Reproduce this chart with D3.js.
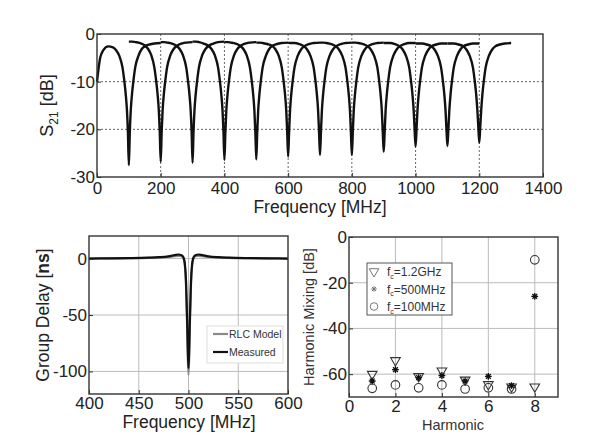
<!DOCTYPE html>
<html>
<head>
<meta charset="utf-8">
<script src="https://cdn.jsdelivr.net/npm/d3@7"></script>
<style>
    body { margin: 0; background: #fff; }
    svg { display: block; font-family: 'Liberation Sans', Arial, sans-serif; }
</style>
</head>
<body>
<svg id="chart" width="604" height="441"></svg>
<script>
// ---- top panel: S21 notches, one curve per notch centre ----
var s21Centers = [100, 200, 300, 400, 500, 600, 700, 800, 900, 1000, 1100, 1200];
var s21Offsets = [-100, -90, -80, -65, -50, -40, -30, -20, -14, -10, -6, -3, 0, 3, 6, 10, 14, 20, 30, 40, 50, 65, 80, 100];
var s21Values = [
    [-10, -5, -3.4, -2.6, -2.8, -3.4, -4.6, -7, -10, -12.5, -16, -20.5, -27.5, -20.5, -16, -12.5, -10, -7, -4.6, -3.2, -2.6, -2.2, -2.0, -1.9],
    [-1.6, -1.6, -1.7, -1.9, -2.4, -3.1, -4.4, -7, -10, -12.5, -16, -20.5, -26.8, -20.5, -16, -12.5, -10, -7, -4.5, -3.2, -2.5, -2.0, -1.8, -1.7],
    [-1.7, -1.7, -1.8, -2.0, -2.5, -3.2, -4.5, -7, -10, -12.5, -16, -20.5, -27, -20.5, -16, -12.5, -10, -7, -4.5, -3.2, -2.5, -2.0, -1.7, -1.6],
    [-1.6, -1.6, -1.7, -2.0, -2.5, -3.2, -4.5, -7, -10, -12.5, -16, -20.5, -26.4, -20.5, -16, -12.5, -10, -7, -4.5, -3.2, -2.5, -2.0, -1.8, -1.7],
    [-1.7, -1.7, -1.8, -2.0, -2.5, -3.2, -4.5, -7, -10, -12.5, -16, -20.5, -26.3, -20.5, -16, -12.5, -10, -7, -4.6, -3.2, -2.5, -2.1, -1.9, -1.8],
    [-1.8, -1.8, -1.9, -2.1, -2.5, -3.2, -4.5, -7, -10, -12.5, -16, -20.5, -25.7, -20.5, -16, -12.5, -10, -7, -4.6, -3.3, -2.6, -2.1, -1.9, -1.8],
    [-1.8, -1.9, -1.9, -2.1, -2.6, -3.3, -4.6, -7, -10, -12.5, -16, -20.5, -25.4, -20.5, -16, -12.5, -10, -7, -4.6, -3.3, -2.6, -2.1, -1.9, -1.8],
    [-1.8, -1.8, -1.9, -2.1, -2.6, -3.3, -4.6, -7, -10, -12.5, -16, -20.5, -25.4, -20.5, -16, -12.5, -10, -7, -4.6, -3.3, -2.6, -2.1, -1.9, -1.8],
    [-1.8, -1.8, -1.9, -2.1, -2.6, -3.3, -4.6, -7, -10, -12.5, -16, -20.5, -24.7, -20.5, -16, -12.5, -10, -7, -4.6, -3.3, -2.6, -2.1, -1.9, -1.9],
    [-1.9, -1.9, -1.9, -2.1, -2.6, -3.3, -4.6, -7, -10, -12.5, -16, -20, -23.6, -20, -16, -12.5, -10, -7, -4.6, -3.3, -2.6, -2.2, -2.0, -2.0],
    [-2.0, -2.0, -2.0, -2.2, -2.6, -3.3, -4.6, -7, -10, -12.5, -16, -20, -23.5, -20, -16, -12.5, -10, -7, -4.6, -3.3, -2.6, -2.2, -2.0, -2.0],
    [-2.0, -2.0, -2.0, -2.2, -2.6, -3.3, -4.6, -7, -10, -12.5, -16, -19.5, -22.8, -19.5, -16, -12.5, -10, -7, -4.6, -3.3, -2.6, -2.2, -2.0, -1.9]
];
var s21XTicks = [0, 200, 400, 600, 800, 1000, 1200, 1400];
var s21YTicks = [0, -10, -20, -30];

// ---- bottom left: group delay ----
var gdFreq = [400, 420, 440, 460, 470, 480, 486, 490, 493, 495, 496.5, 497.5, 498.5, 499.3, 500, 500.7, 501.5, 502.5, 503.5, 505, 507, 510, 514, 520, 530, 540, 560, 580, 600];
var gdMeasured = [0, 0.2, 0.4, 0.8, 1.2, 2, 3, 3.6, 3, 1, -6, -20, -50, -80, -97, -80, -50, -20, -6, 1, 3, 3.6, 3, 2, 1.2, 0.8, 0.4, 0.2, 0];
var gdRlc = [0, 0.1, 0.3, 0.6, 0.9, 1.5, 2.1, 2.4, 2, 0, -8, -24, -56, -88, -103, -88, -56, -24, -8, 0, 2, 2.4, 2.1, 1.5, 0.9, 0.6, 0.3, 0.1, 0];
var gdXTicks = [400, 450, 500, 550, 600];
var gdYTicks = [0, -50, -100];

// ---- bottom right: harmonic mixing ----
var harmonics = [1, 2, 3, 4, 5, 6, 7, 8];
var mix1200 = [-60, -54, -61, -58.5, -62.5, -64.5, -65.5, -65.5];
var mix500 = [-63, -58, -61.5, -60.6, -63, -61, -65, -26];
var mix100 = [-66.2, -64.7, -66, -64.7, -66.5, -66, -66.5, -10];
var hmXTicks = [0, 2, 4, 6, 8];
var hmYTicks = [0, -20, -40, -60];

var svg = d3.select('#chart');
var axisColor = '#333';

function drawFrame(box, x, y, xTicks, yTicks, gridStyle, tickFont, xPad) {
    var g = svg.append('g');
    var grid = g.append('g')
        .attr('stroke', gridStyle.color)
        .attr('stroke-width', 1)
        .attr('stroke-dasharray', gridStyle.dash);
    xTicks.forEach(function (t) {
        if (x(t) <= box.left + 1 || x(t) >= box.right - 1) return;
        grid.append('line')
            .attr('x1', x(t)).attr('x2', x(t))
            .attr('y1', box.top).attr('y2', box.bottom);
    });
    yTicks.forEach(function (t) {
        if (y(t) <= box.top + 1 || y(t) >= box.bottom - 1) return;
        grid.append('line')
            .attr('x1', box.left).attr('x2', box.right)
            .attr('y1', y(t)).attr('y2', y(t));
    });

    var xAxis = g.append('g')
        .attr('transform', 'translate(0,' + box.bottom + ')')
        .call(d3.axisBottom(x).tickValues(xTicks).tickSize(-4).tickPadding(xPad).tickFormat(d3.format('d')));
    var yAxis = g.append('g')
        .attr('transform', 'translate(' + box.left + ',0)')
        .call(d3.axisLeft(y).tickValues(yTicks).tickSize(-4).tickPadding(2).tickFormat(function (d) { return d === 0 ? '0' : '-' + Math.abs(d); }));
    [xAxis, yAxis].forEach(function (a) {
        a.select('.domain').remove();
        a.selectAll('line').attr('stroke', axisColor);
        a.selectAll('text')
            .attr('fill', '#222')
            .style('font-size', tickFont + 'px')
            .style('font-family', "'Liberation Sans', Arial, sans-serif");
    });

    return g;
}

function drawBox(box) {
    svg.append('rect')
        .attr('x', box.left).attr('y', box.top)
        .attr('width', box.right - box.left)
        .attr('height', box.bottom - box.top)
        .attr('fill', 'none')
        .attr('stroke', axisColor)
        .attr('stroke-width', 1.4);
}

// ================= top panel =================
var topBox = { left: 97, right: 543, top: 34, bottom: 177 };
var xTop = d3.scaleLinear().domain([0, 1400]).range([topBox.left, topBox.right]);
var yTop = d3.scaleLinear().domain([-30, 0]).range([topBox.bottom, topBox.top]);
drawFrame(topBox, xTop, yTop, s21XTicks, s21YTicks, { color: '#666', dash: '2,2' }, 17, 5);

var s21Line = d3.line()
    .x(function (d) { return xTop(d[0]); })
    .y(function (d) { return yTop(d[1]); })
    .curve(d3.curveMonotoneX);

svg.append('g')
    .selectAll('path')
    .data(s21Centers)
    .join('path')
    .attr('d', function (c, i) {
        var pts = s21Offsets.map(function (o, j) { return [c + o, s21Values[i][j]]; });
        return s21Line(pts);
    })
    .attr('fill', 'none')
    .attr('stroke', '#111')
    .attr('stroke-width', 2.4)
    .attr('stroke-linejoin', 'round');
drawBox(topBox);

var s21Label = svg.append('text')
    .attr('transform', 'translate(53,' + ((topBox.top + topBox.bottom) / 2) + ') rotate(-90)')
    .attr('text-anchor', 'middle')
    .attr('fill', '#222')
    .style('font-size', '18px');
s21Label.append('tspan').text('S');
s21Label.append('tspan').attr('dy', 5).style('font-size', '12px').text('21');
s21Label.append('tspan').attr('dy', -5).text(' [dB]');

svg.append('text')
    .attr('x', 320).attr('y', 213)
    .attr('text-anchor', 'middle')
    .attr('fill', '#222')
    .style('font-size', '17.5px')
    .text('Frequency [MHz]');

// ================= bottom left =================
var gdBox = { left: 89, right: 288, top: 236, bottom: 394 };
var xGd = d3.scaleLinear().domain([400, 600]).range([gdBox.left, gdBox.right]);
var yGd = d3.scaleLinear().domain([-120, 20]).range([gdBox.bottom, gdBox.top]);
drawFrame(gdBox, xGd, yGd, gdXTicks, gdYTicks, { color: '#bbb', dash: null }, 17, 3);

var gdLine = d3.line()
    .x(function (d) { return xGd(d[0]); })
    .y(function (d) { return yGd(d[1]); })
    .curve(d3.curveMonotoneX);

svg.append('path')
    .attr('d', gdLine(gdFreq.map(function (f, i) { return [f, gdRlc[i]]; })))
    .attr('fill', 'none')
    .attr('stroke', '#8a8a8a')
    .attr('stroke-width', 2.2);
svg.append('path')
    .attr('d', gdLine(gdFreq.map(function (f, i) { return [f, gdMeasured[i]]; })))
    .attr('fill', 'none')
    .attr('stroke', '#111')
    .attr('stroke-width', 2.2);
drawBox(gdBox);

var gdLegend = svg.append('g').attr('transform', 'translate(207,326)');
gdLegend.append('rect')
    .attr('width', 76).attr('height', 37)
    .attr('fill', '#fff')
    .attr('stroke', '#ddd');
[['RLC Model', '#8a8a8a'], ['Measured', '#111']].forEach(function (e, i) {
    var yy = 8 + i * 18;
    gdLegend.append('line')
        .attr('x1', 6).attr('x2', 21)
        .attr('y1', yy).attr('y2', yy)
        .attr('stroke', e[1])
        .attr('stroke-width', 2.2);
    gdLegend.append('text')
        .attr('x', 22).attr('y', yy + 3.5)
        .attr('fill', '#333')
        .style('font-size', '10.5px')
        .text(e[0]);
});

var gdYLabel = svg.append('text')
    .attr('transform', 'translate(49,' + ((gdBox.top + gdBox.bottom) / 2) + ') rotate(-90)')
    .attr('text-anchor', 'middle')
    .attr('fill', '#222')
    .style('font-size', '17.5px');
gdYLabel.append('tspan').text('Group Delay [');
gdYLabel.append('tspan').style('font-weight', 'bold').text('ns');
gdYLabel.append('tspan').text(']');

svg.append('text')
    .attr('x', 189).attr('y', 428)
    .attr('text-anchor', 'middle')
    .attr('fill', '#222')
    .style('font-size', '17.5px')
    .text('Frequency [MHz]');

// ================= bottom right =================
var hmBox = { left: 349, right: 558, top: 237, bottom: 397 };
var xHm = d3.scaleLinear().domain([0, 9]).range([hmBox.left, hmBox.right]);
var yHm = d3.scaleLinear().domain([-70, 0]).range([hmBox.bottom, hmBox.top]);
drawFrame(hmBox, xHm, yHm, hmXTicks, hmYTicks, { color: '#bbb', dash: null }, 17, 3);

var markerColor = '#333';
var triSym = d3.symbol().type(d3.symbolTriangle).size(40);

svg.append('g')
    .selectAll('path')
    .data(harmonics)
    .join('path')
    .attr('d', triSym)
    .attr('transform', function (h, i) { return 'translate(' + xHm(h) + ',' + yHm(mix1200[i]) + ') rotate(180)'; })
    .attr('fill', 'none')
    .attr('stroke', markerColor)
    .attr('stroke-width', 1.1);

svg.append('g')
    .selectAll('circle')
    .data(harmonics)
    .join('circle')
    .attr('cx', function (h) { return xHm(h); })
    .attr('cy', function (h, i) { return yHm(mix100[i]); })
    .attr('r', 4.3)
    .attr('fill', 'none')
    .attr('stroke', markerColor)
    .attr('stroke-width', 1.1);

function starPath(r) {
    var p = '';
    for (var k = 0; k < 4; k++) {
        var a = k * Math.PI / 4;
        var dx = r * Math.cos(a), dy = r * Math.sin(a);
        p += 'M' + (-dx) + ',' + (-dy) + 'L' + dx + ',' + dy;
    }
    return p;
}

svg.append('g')
    .selectAll('path')
    .data(harmonics)
    .join('path')
    .attr('d', starPath(3.4))
    .attr('transform', function (h, i) { return 'translate(' + xHm(h) + ',' + yHm(mix500[i]) + ')'; })
    .attr('fill', 'none')
    .attr('stroke', '#111')
    .attr('stroke-width', 1.3);
drawBox(hmBox);

var hmLegend = svg.append('g').attr('transform', 'translate(367,263)');
hmLegend.append('rect')
    .attr('width', 85).attr('height', 52)
    .attr('fill', '#fff')
    .attr('stroke', '#555')
    .attr('stroke-width', 1);
var legEntries = [['1.2GHz', 'tri'], ['500MHz', 'star'], ['100MHz', 'circ']];
legEntries.forEach(function (e, i) {
    var yy = 8.5 + i * 17.5;
    if (e[1] === 'tri') {
        hmLegend.append('path').attr('d', triSym).attr('transform', 'translate(7,' + yy + ') rotate(180)').attr('fill', 'none').attr('stroke', '#777');
    } else if (e[1] === 'star') {
        hmLegend.append('path').attr('d', starPath(2.8)).attr('transform', 'translate(7,' + yy + ')').attr('stroke', '#777');
    } else {
        hmLegend.append('circle').attr('cx', 7).attr('cy', yy).attr('r', 3.8).attr('fill', 'none').attr('stroke', '#777');
    }
    var t = hmLegend.append('text')
        .attr('x', 20).attr('y', yy + 4.5)
        .attr('fill', '#333')
        .style('font-size', '12px');
    t.append('tspan').text('f');
    t.append('tspan').attr('dy', 2.5).style('font-size', '7px').text('c');
    t.append('tspan').attr('dy', -2.5).text('=' + e[0]);
});

svg.append('text')
    .attr('transform', 'translate(314,' + ((hmBox.top + hmBox.bottom) / 2) + ') rotate(-90)')
    .attr('text-anchor', 'middle')
    .attr('fill', '#333')
    .style('font-size', '14.5px')
    .text('Harmonic Mixing [dB]');

svg.append('text')
    .attr('x', 453).attr('y', 430)
    .attr('text-anchor', 'middle')
    .attr('fill', '#333')
    .style('font-size', '14.5px')
    .text('Harmonic');
</script>
</body>
</html>
